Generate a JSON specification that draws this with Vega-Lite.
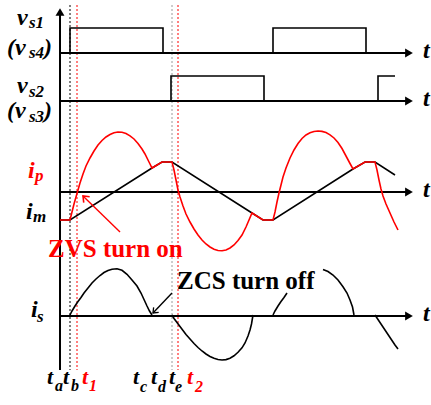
{
  "$schema": "https://vega.github.io/schema/vega-lite/v6.json",
  "width": 431,
  "height": 405,
  "autosize": {"type": "fit", "contains": "padding"},
  "padding": 0,
  "background": "white",
  "config": {"view": {"stroke": null}, "text": {"font": "Liberation Serif, Times New Roman, Times, serif"}},
  "datasets": {
    "guides": [
      {"t": 70, "v": 5, "v2": 370, "ink": "plain"},
      {"t": 77, "v": 5, "v2": 370, "ink": "red"},
      {"t": 172, "v": 5, "v2": 370, "ink": "gray"},
      {"t": 178, "v": 5, "v2": 370, "ink": "red"}
    ],
    "frame": [
      {"t": 60, "t2": 408, "v": 53, "v2": 53},
      {"t": 60, "t2": 408, "v": 101, "v2": 101},
      {"t": 60, "t2": 408, "v": 192, "v2": 192},
      {"t": 60, "t2": 408, "v": 316, "v2": 316},
      {"t": 60, "t2": 60, "v": 370, "v2": 14}
    ],
    "heads": [
      {"t": 409, "v": 53, "dir": "right"},
      {"t": 409, "v": 101, "dir": "right"},
      {"t": 409, "v": 192, "dir": "right"},
      {"t": 409, "v": 316, "dir": "right"},
      {"t": 60, "v": 12, "dir": "up"}
    ],
    "traces": [
      {"s": "vs1", "ink": "plain", "t": 60, "v": 53},
      {"s": "vs1", "ink": "plain", "t": 70, "v": 53},
      {"s": "vs1", "ink": "plain", "t": 70, "v": 28},
      {"s": "vs1", "ink": "plain", "t": 163, "v": 28},
      {"s": "vs1", "ink": "plain", "t": 163, "v": 53},
      {"s": "vs1", "ink": "plain", "t": 273, "v": 53},
      {"s": "vs1", "ink": "plain", "t": 273, "v": 28},
      {"s": "vs1", "ink": "plain", "t": 366, "v": 28},
      {"s": "vs1", "ink": "plain", "t": 366, "v": 53},

      {"s": "vs2", "ink": "plain", "t": 60, "v": 101},
      {"s": "vs2", "ink": "plain", "t": 171, "v": 101},
      {"s": "vs2", "ink": "plain", "t": 171, "v": 76},
      {"s": "vs2", "ink": "plain", "t": 264, "v": 76},
      {"s": "vs2", "ink": "plain", "t": 264, "v": 101},
      {"s": "vs2", "ink": "plain", "t": 378, "v": 101},
      {"s": "vs2", "ink": "plain", "t": 378, "v": 76},
      {"s": "vs2", "ink": "plain", "t": 395, "v": 76},

      {"s": "im", "ink": "plain", "t": 60, "v": 220},
      {"s": "im", "ink": "plain", "t": 70, "v": 220},
      {"s": "im", "ink": "plain", "t": 152, "v": 168},
      {"s": "im", "ink": "plain", "t": 162, "v": 162},
      {"s": "im", "ink": "plain", "t": 172, "v": 162},
      {"s": "im", "ink": "plain", "t": 252, "v": 213},
      {"s": "im", "ink": "plain", "t": 263, "v": 220},
      {"s": "im", "ink": "plain", "t": 273, "v": 220},
      {"s": "im", "ink": "plain", "t": 353, "v": 169},
      {"s": "im", "ink": "plain", "t": 365, "v": 162},
      {"s": "im", "ink": "plain", "t": 375, "v": 162},
      {"s": "im", "ink": "plain", "t": 395, "v": 175},

      {"s": "is1", "ink": "plain", "t": 70, "v": 315},
      {"s": "is1", "ink": "plain", "t": 72, "v": 311},
      {"s": "is1", "ink": "plain", "t": 75, "v": 306},
      {"s": "is1", "ink": "plain", "t": 78, "v": 301.5},
      {"s": "is1", "ink": "plain", "t": 81, "v": 297.5},
      {"s": "is1", "ink": "plain", "t": 84, "v": 293},
      {"s": "is1", "ink": "plain", "t": 88, "v": 288},
      {"s": "is1", "ink": "plain", "t": 92, "v": 283},
      {"s": "is1", "ink": "plain", "t": 96, "v": 279},
      {"s": "is1", "ink": "plain", "t": 100, "v": 275.5},
      {"s": "is1", "ink": "plain", "t": 104, "v": 272.5},
      {"s": "is1", "ink": "plain", "t": 108, "v": 270.5},
      {"s": "is1", "ink": "plain", "t": 112, "v": 269.2},
      {"s": "is1", "ink": "plain", "t": 117, "v": 268.8},
      {"s": "is1", "ink": "plain", "t": 122, "v": 270.3},
      {"s": "is1", "ink": "plain", "t": 127, "v": 274.3},
      {"s": "is1", "ink": "plain", "t": 132, "v": 280},
      {"s": "is1", "ink": "plain", "t": 137, "v": 286},
      {"s": "is1", "ink": "plain", "t": 141, "v": 293},
      {"s": "is1", "ink": "plain", "t": 144, "v": 299.5},
      {"s": "is1", "ink": "plain", "t": 147, "v": 306},
      {"s": "is1", "ink": "plain", "t": 149.5, "v": 311},
      {"s": "is1", "ink": "plain", "t": 152, "v": 315},

      {"s": "is2", "ink": "plain", "t": 172, "v": 315},
      {"s": "is2", "ink": "plain", "t": 174, "v": 318.5},
      {"s": "is2", "ink": "plain", "t": 177, "v": 322.5},
      {"s": "is2", "ink": "plain", "t": 180, "v": 326.5},
      {"s": "is2", "ink": "plain", "t": 183, "v": 330.5},
      {"s": "is2", "ink": "plain", "t": 186, "v": 334.5},
      {"s": "is2", "ink": "plain", "t": 190, "v": 339},
      {"s": "is2", "ink": "plain", "t": 194, "v": 343.5},
      {"s": "is2", "ink": "plain", "t": 198, "v": 347.5},
      {"s": "is2", "ink": "plain", "t": 202, "v": 351},
      {"s": "is2", "ink": "plain", "t": 206, "v": 354},
      {"s": "is2", "ink": "plain", "t": 210, "v": 356.5},
      {"s": "is2", "ink": "plain", "t": 214, "v": 358.3},
      {"s": "is2", "ink": "plain", "t": 218, "v": 359.5},
      {"s": "is2", "ink": "plain", "t": 222, "v": 360},
      {"s": "is2", "ink": "plain", "t": 226, "v": 359.6},
      {"s": "is2", "ink": "plain", "t": 230, "v": 358.2},
      {"s": "is2", "ink": "plain", "t": 234, "v": 355.8},
      {"s": "is2", "ink": "plain", "t": 238, "v": 352.3},
      {"s": "is2", "ink": "plain", "t": 242, "v": 347.8},
      {"s": "is2", "ink": "plain", "t": 245, "v": 343},
      {"s": "is2", "ink": "plain", "t": 248, "v": 336},
      {"s": "is2", "ink": "plain", "t": 250, "v": 330},
      {"s": "is2", "ink": "plain", "t": 251.5, "v": 324},
      {"s": "is2", "ink": "plain", "t": 253, "v": 315},

      {"s": "is3a", "ink": "plain", "t": 273, "v": 315},
      {"s": "is3a", "ink": "plain", "t": 275, "v": 311},
      {"s": "is3a", "ink": "plain", "t": 278, "v": 306},
      {"s": "is3a", "ink": "plain", "t": 281, "v": 301.5},
      {"s": "is3a", "ink": "plain", "t": 284, "v": 297.5},
      {"s": "is3a", "ink": "plain", "t": 287, "v": 293},

      {"s": "is3b", "ink": "plain", "t": 323, "v": 269.5},
      {"s": "is3b", "ink": "plain", "t": 328, "v": 271.5},
      {"s": "is3b", "ink": "plain", "t": 333, "v": 275},
      {"s": "is3b", "ink": "plain", "t": 338, "v": 280},
      {"s": "is3b", "ink": "plain", "t": 343, "v": 286.7},
      {"s": "is3b", "ink": "plain", "t": 347, "v": 293},
      {"s": "is3b", "ink": "plain", "t": 350, "v": 300},
      {"s": "is3b", "ink": "plain", "t": 352.5, "v": 307},
      {"s": "is3b", "ink": "plain", "t": 354, "v": 315},

      {"s": "is4", "ink": "plain", "t": 375, "v": 315},
      {"s": "is4", "ink": "plain", "t": 379, "v": 321},
      {"s": "is4", "ink": "plain", "t": 383, "v": 327},
      {"s": "is4", "ink": "plain", "t": 387, "v": 333},
      {"s": "is4", "ink": "plain", "t": 391, "v": 339},
      {"s": "is4", "ink": "plain", "t": 395, "v": 345},
      {"s": "is4", "ink": "plain", "t": 398, "v": 349},

      {"s": "ip", "ink": "red", "t": 60, "v": 220},
      {"s": "ip", "ink": "red", "t": 70, "v": 220},
      {"s": "ip", "ink": "red", "t": 72, "v": 212},
      {"s": "ip", "ink": "red", "t": 74, "v": 204},
      {"s": "ip", "ink": "red", "t": 76, "v": 197},
      {"s": "ip", "ink": "red", "t": 78, "v": 190},
      {"s": "ip", "ink": "red", "t": 80, "v": 183},
      {"s": "ip", "ink": "red", "t": 83, "v": 174},
      {"s": "ip", "ink": "red", "t": 86, "v": 166},
      {"s": "ip", "ink": "red", "t": 90, "v": 158},
      {"s": "ip", "ink": "red", "t": 94, "v": 151},
      {"s": "ip", "ink": "red", "t": 98, "v": 145},
      {"s": "ip", "ink": "red", "t": 102, "v": 140.5},
      {"s": "ip", "ink": "red", "t": 106, "v": 137},
      {"s": "ip", "ink": "red", "t": 110, "v": 134.5},
      {"s": "ip", "ink": "red", "t": 114, "v": 132.8},
      {"s": "ip", "ink": "red", "t": 118, "v": 132},
      {"s": "ip", "ink": "red", "t": 122, "v": 132.3},
      {"s": "ip", "ink": "red", "t": 126, "v": 133.5},
      {"s": "ip", "ink": "red", "t": 130, "v": 135.8},
      {"s": "ip", "ink": "red", "t": 134, "v": 139},
      {"s": "ip", "ink": "red", "t": 138, "v": 143.5},
      {"s": "ip", "ink": "red", "t": 142, "v": 149},
      {"s": "ip", "ink": "red", "t": 145, "v": 154},
      {"s": "ip", "ink": "red", "t": 148, "v": 160},
      {"s": "ip", "ink": "red", "t": 150, "v": 164},
      {"s": "ip", "ink": "red", "t": 152, "v": 168},
      {"s": "ip", "ink": "red", "t": 162, "v": 162},
      {"s": "ip", "ink": "red", "t": 172, "v": 162},
      {"s": "ip", "ink": "red", "t": 174, "v": 170},
      {"s": "ip", "ink": "red", "t": 176, "v": 180},
      {"s": "ip", "ink": "red", "t": 178, "v": 190},
      {"s": "ip", "ink": "red", "t": 180, "v": 197},
      {"s": "ip", "ink": "red", "t": 183, "v": 206},
      {"s": "ip", "ink": "red", "t": 186, "v": 214},
      {"s": "ip", "ink": "red", "t": 190, "v": 222},
      {"s": "ip", "ink": "red", "t": 194, "v": 229},
      {"s": "ip", "ink": "red", "t": 198, "v": 235},
      {"s": "ip", "ink": "red", "t": 202, "v": 240},
      {"s": "ip", "ink": "red", "t": 206, "v": 244},
      {"s": "ip", "ink": "red", "t": 210, "v": 247},
      {"s": "ip", "ink": "red", "t": 214, "v": 249.3},
      {"s": "ip", "ink": "red", "t": 218, "v": 250.5},
      {"s": "ip", "ink": "red", "t": 222, "v": 250.8},
      {"s": "ip", "ink": "red", "t": 226, "v": 250},
      {"s": "ip", "ink": "red", "t": 230, "v": 248},
      {"s": "ip", "ink": "red", "t": 234, "v": 245},
      {"s": "ip", "ink": "red", "t": 238, "v": 240.5},
      {"s": "ip", "ink": "red", "t": 242, "v": 235},
      {"s": "ip", "ink": "red", "t": 246, "v": 227},
      {"s": "ip", "ink": "red", "t": 249, "v": 220},
      {"s": "ip", "ink": "red", "t": 252, "v": 213},
      {"s": "ip", "ink": "red", "t": 263, "v": 220},
      {"s": "ip", "ink": "red", "t": 273, "v": 220},
      {"s": "ip", "ink": "red", "t": 275, "v": 212},
      {"s": "ip", "ink": "red", "t": 277, "v": 202},
      {"s": "ip", "ink": "red", "t": 279, "v": 193},
      {"s": "ip", "ink": "red", "t": 281, "v": 185},
      {"s": "ip", "ink": "red", "t": 283, "v": 177},
      {"s": "ip", "ink": "red", "t": 286, "v": 168},
      {"s": "ip", "ink": "red", "t": 290, "v": 158},
      {"s": "ip", "ink": "red", "t": 294, "v": 150},
      {"s": "ip", "ink": "red", "t": 298, "v": 143.5},
      {"s": "ip", "ink": "red", "t": 302, "v": 138.5},
      {"s": "ip", "ink": "red", "t": 306, "v": 135},
      {"s": "ip", "ink": "red", "t": 310, "v": 132.8},
      {"s": "ip", "ink": "red", "t": 314, "v": 131.5},
      {"s": "ip", "ink": "red", "t": 318, "v": 131},
      {"s": "ip", "ink": "red", "t": 322, "v": 131.4},
      {"s": "ip", "ink": "red", "t": 326, "v": 132.6},
      {"s": "ip", "ink": "red", "t": 330, "v": 134.8},
      {"s": "ip", "ink": "red", "t": 334, "v": 138},
      {"s": "ip", "ink": "red", "t": 338, "v": 142.5},
      {"s": "ip", "ink": "red", "t": 342, "v": 148.5},
      {"s": "ip", "ink": "red", "t": 346, "v": 156},
      {"s": "ip", "ink": "red", "t": 350, "v": 163.5},
      {"s": "ip", "ink": "red", "t": 353, "v": 169},
      {"s": "ip", "ink": "red", "t": 365, "v": 162},
      {"s": "ip", "ink": "red", "t": 375, "v": 162},
      {"s": "ip", "ink": "red", "t": 377, "v": 170},
      {"s": "ip", "ink": "red", "t": 379, "v": 180},
      {"s": "ip", "ink": "red", "t": 381, "v": 189},
      {"s": "ip", "ink": "red", "t": 383, "v": 196},
      {"s": "ip", "ink": "red", "t": 386, "v": 204},
      {"s": "ip", "ink": "red", "t": 390, "v": 213},
      {"s": "ip", "ink": "red", "t": 394, "v": 222},
      {"s": "ip", "ink": "red", "t": 398, "v": 230}
    ],
    "pointers": [
      {"p": "zvs", "ink": "red", "t": 120, "v": 232, "t2": 83, "v2": 196},
      {"p": "zcs", "ink": "plain", "t": 172, "v": 293, "t2": 153, "v2": 313}
    ],
    "labels": [
      {"kind": "sym", "ink": "plain", "t": 17, "v": 25, "txt": "v"},
      {"kind": "sub", "ink": "plain", "t": 29, "v": 28, "txt": "s1"},
      {"kind": "sym", "ink": "plain", "t": 7, "v": 55, "txt": "(v"},
      {"kind": "sub", "ink": "plain", "t": 29, "v": 58, "txt": "s4"},
      {"kind": "sym", "ink": "plain", "t": 44, "v": 55, "txt": ")"},
      {"kind": "sym", "ink": "plain", "t": 17, "v": 93, "txt": "v"},
      {"kind": "sub", "ink": "plain", "t": 29, "v": 97, "txt": "s2"},
      {"kind": "sym", "ink": "plain", "t": 7, "v": 118, "txt": "(v"},
      {"kind": "sub", "ink": "plain", "t": 29, "v": 122, "txt": "s3"},
      {"kind": "sym", "ink": "plain", "t": 44, "v": 118, "txt": ")"},
      {"kind": "sym", "ink": "red", "t": 28, "v": 178, "txt": "i"},
      {"kind": "sub", "ink": "red", "t": 35, "v": 181, "txt": "p"},
      {"kind": "sym", "ink": "plain", "t": 26, "v": 219, "txt": "i"},
      {"kind": "sub", "ink": "plain", "t": 33, "v": 222, "txt": "m"},
      {"kind": "sym", "ink": "plain", "t": 31, "v": 317, "txt": "i"},
      {"kind": "sub", "ink": "plain", "t": 37, "v": 322, "txt": "s"},
      {"kind": "sym", "ink": "plain", "t": 423, "v": 58, "txt": "t"},
      {"kind": "sym", "ink": "plain", "t": 423, "v": 106, "txt": "t"},
      {"kind": "sym", "ink": "plain", "t": 423, "v": 197, "txt": "t"},
      {"kind": "sym", "ink": "plain", "t": 423, "v": 321, "txt": "t"},
      {"kind": "tick", "ink": "plain", "t": 47, "v": 384, "txt": "t"},
      {"kind": "tsub", "ink": "plain", "t": 55, "v": 391, "txt": "a"},
      {"kind": "tick", "ink": "plain", "t": 63, "v": 384, "txt": "t"},
      {"kind": "tsub", "ink": "plain", "t": 71, "v": 391, "txt": "b"},
      {"kind": "tick", "ink": "red", "t": 82, "v": 384, "txt": "t"},
      {"kind": "tsub", "ink": "red", "t": 89, "v": 391, "txt": "1"},
      {"kind": "tick", "ink": "plain", "t": 133, "v": 384, "txt": "t"},
      {"kind": "tsub", "ink": "plain", "t": 140, "v": 392, "txt": "c"},
      {"kind": "tick", "ink": "plain", "t": 151, "v": 384, "txt": "t"},
      {"kind": "tsub", "ink": "plain", "t": 158, "v": 392, "txt": "d"},
      {"kind": "tick", "ink": "plain", "t": 169, "v": 384, "txt": "t"},
      {"kind": "tsub", "ink": "plain", "t": 175, "v": 392, "txt": "e"},
      {"kind": "tick", "ink": "red", "t": 187, "v": 384, "txt": "t"},
      {"kind": "tsub", "ink": "red", "t": 195, "v": 392, "txt": "2"},
      {"kind": "note", "ink": "red", "t": 48, "v": 257, "txt": "ZVS turn on"},
      {"kind": "note", "ink": "plain", "t": 177, "v": 289, "txt": "ZCS turn off"}
    ]
  },
  "layer": [
    {
      "data": {"name": "guides"},
      "mark": {"type": "rule", "strokeWidth": 1, "strokeDash": [2, 2]},
      "encoding": {
        "x": {"field": "t", "type": "quantitative", "scale": {"domain": [0, 431], "nice": false, "zero": false}, "axis": null},
        "y": {"field": "v", "type": "quantitative", "scale": {"domain": [0, 405], "nice": false, "zero": false, "reverse": true}, "axis": null},
        "y2": {"field": "v2"},
        "color": {"field": "ink", "type": "nominal", "scale": {"domain": ["plain", "red", "gray"], "range": ["#000000", "#ff0000", "#9a9a9a"]}, "legend": null}
      }
    },
    {
      "data": {"name": "frame"},
      "mark": {"type": "rule", "strokeWidth": 2, "color": "#000000"},
      "encoding": {
        "x": {"field": "t", "type": "quantitative", "axis": null},
        "x2": {"field": "t2"},
        "y": {"field": "v", "type": "quantitative", "axis": null},
        "y2": {"field": "v2"}
      }
    },
    {
      "data": {"name": "heads"},
      "mark": {"type": "point", "filled": true, "size": 80, "color": "#000000", "opacity": 1},
      "encoding": {
        "x": {"field": "t", "type": "quantitative", "axis": null},
        "y": {"field": "v", "type": "quantitative", "axis": null},
        "shape": {"field": "dir", "type": "nominal", "scale": {"domain": ["right", "up"], "range": ["triangle-right", "triangle-up"]}, "legend": null}
      }
    },
    {
      "data": {"name": "traces"},
      "mark": {"type": "line", "strokeWidth": 1.6, "interpolate": "linear"},
      "encoding": {
        "x": {"field": "t", "type": "quantitative", "axis": null},
        "y": {"field": "v", "type": "quantitative", "axis": null},
        "detail": {"field": "s", "type": "nominal"},
        "order": {"value": null},
        "color": {"field": "ink", "type": "nominal", "legend": null}
      }
    },
    {
      "data": {"name": "pointers"},
      "mark": {"type": "rule", "strokeWidth": 1.4},
      "encoding": {
        "x": {"field": "t", "type": "quantitative", "axis": null},
        "x2": {"field": "t2"},
        "y": {"field": "v", "type": "quantitative", "axis": null},
        "y2": {"field": "v2"},
        "color": {"field": "ink", "type": "nominal", "legend": null}
      }
    },
    {
      "data": {"name": "pointers"},
      "transform": [{"filter": "datum.p === 'zvs'"}],
      "mark": {"type": "point", "shape": "M -0.8 1 L 0 0 L 0.8 1", "size": 110, "filled": false, "strokeWidth": 1.6, "angle": -45, "opacity": 1},
      "encoding": {
        "x": {"field": "t2", "type": "quantitative", "axis": null},
        "y": {"field": "v2", "type": "quantitative", "axis": null},
        "color": {"field": "ink", "type": "nominal", "legend": null}
      }
    },
    {
      "data": {"name": "pointers"},
      "transform": [{"filter": "datum.p === 'zcs'"}],
      "mark": {"type": "point", "shape": "M -0.8 1 L 0 0 L 0.8 1", "size": 80, "filled": false, "strokeWidth": 1.3, "angle": 225, "opacity": 1},
      "encoding": {
        "x": {"field": "t2", "type": "quantitative", "axis": null},
        "y": {"field": "v2", "type": "quantitative", "axis": null},
        "color": {"field": "ink", "type": "nominal", "legend": null}
      }
    },
    {
      "data": {"name": "labels"},
      "transform": [{"filter": "datum.kind === 'sym'"}],
      "mark": {"type": "text", "fontStyle": "italic", "fontWeight": "bold", "fontSize": 24, "align": "left", "baseline": "alphabetic"},
      "encoding": {
        "x": {"field": "t", "type": "quantitative", "axis": null},
        "y": {"field": "v", "type": "quantitative", "axis": null},
        "text": {"field": "txt"},
        "color": {"field": "ink", "type": "nominal", "legend": null}
      }
    },
    {
      "data": {"name": "labels"},
      "transform": [{"filter": "datum.kind === 'sub'"}],
      "mark": {"type": "text", "fontStyle": "italic", "fontWeight": "bold", "fontSize": 17, "align": "left", "baseline": "alphabetic"},
      "encoding": {
        "x": {"field": "t", "type": "quantitative", "axis": null},
        "y": {"field": "v", "type": "quantitative", "axis": null},
        "text": {"field": "txt"},
        "color": {"field": "ink", "type": "nominal", "legend": null}
      }
    },
    {
      "data": {"name": "labels"},
      "transform": [{"filter": "datum.kind === 'tick'"}],
      "mark": {"type": "text", "fontStyle": "italic", "fontWeight": "bold", "fontSize": 22, "align": "left", "baseline": "alphabetic"},
      "encoding": {
        "x": {"field": "t", "type": "quantitative", "axis": null},
        "y": {"field": "v", "type": "quantitative", "axis": null},
        "text": {"field": "txt"},
        "color": {"field": "ink", "type": "nominal", "legend": null}
      }
    },
    {
      "data": {"name": "labels"},
      "transform": [{"filter": "datum.kind === 'tsub'"}],
      "mark": {"type": "text", "fontStyle": "italic", "fontWeight": "bold", "fontSize": 16, "align": "left", "baseline": "alphabetic"},
      "encoding": {
        "x": {"field": "t", "type": "quantitative", "axis": null},
        "y": {"field": "v", "type": "quantitative", "axis": null},
        "text": {"field": "txt"},
        "color": {"field": "ink", "type": "nominal", "legend": null}
      }
    },
    {
      "data": {"name": "labels"},
      "transform": [{"filter": "datum.kind === 'note'"}],
      "mark": {"type": "text", "fontWeight": "bold", "fontSize": 25, "align": "left", "baseline": "alphabetic"},
      "encoding": {
        "x": {"field": "t", "type": "quantitative", "axis": null},
        "y": {"field": "v", "type": "quantitative", "axis": null},
        "text": {"field": "txt"},
        "color": {"field": "ink", "type": "nominal", "legend": null}
      }
    }
  ]
}
